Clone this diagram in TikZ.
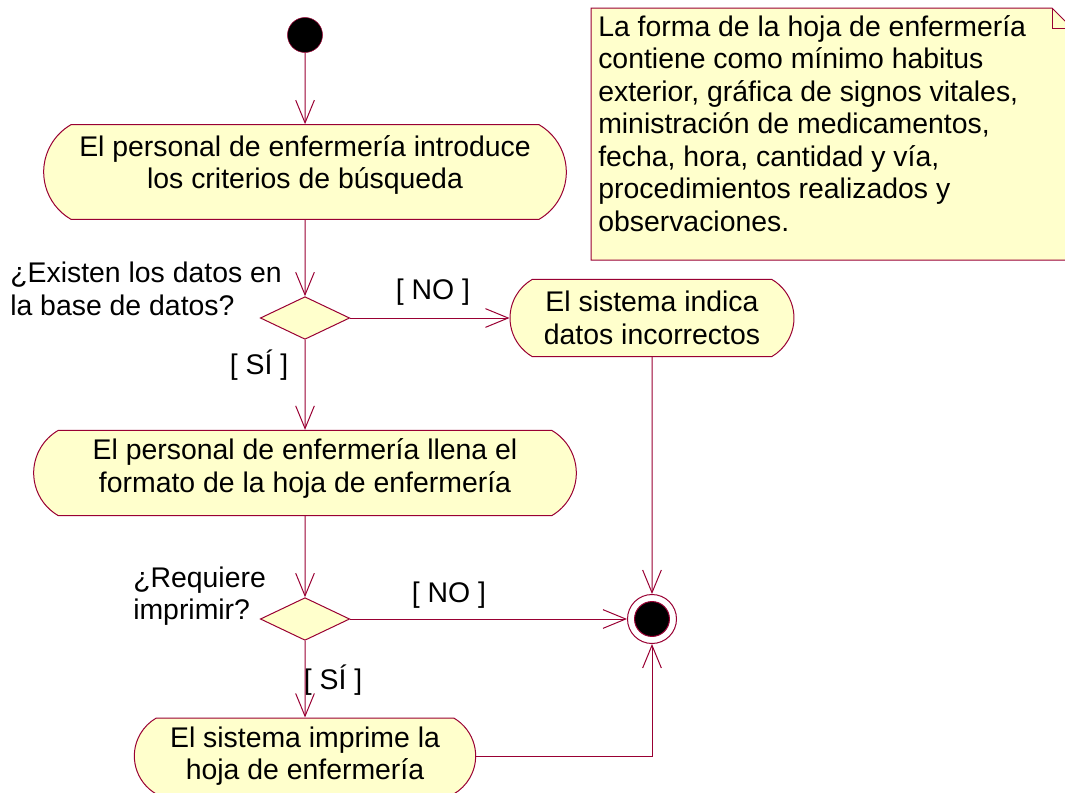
\documentclass[tikz,border=0pt]{standalone}
\usepackage{fontspec}
\setmainfont{Liberation Sans}
\usetikzlibrary{positioning, arrows.meta, shapes.geometric, shapes.misc}
\definecolor{umlline}{RGB}{153,0,51}
\definecolor{umlfill}{RGB}{255,255,204}

\begin{document}
\begin{tikzpicture}[x=0.75pt, y=-0.75pt, font=\fontsize{21.3pt}{24.4pt}\selectfont]
    \tikzset{
        activity/.style={rounded rectangle, rounded rectangle arc length=120,
                         draw=umlline, line width=0.75pt, fill=umlfill,
                         align=center, inner sep=0pt},
        decision/.style={diamond, draw=umlline, line width=0.75pt, fill=umlfill,
                         inner sep=0pt, minimum width=67pt, minimum height=32pt},
        arrow/.style={draw=umlline, line width=0.75pt,
                      -{Straight Barb[length=17pt, width=14pt]}},
        line/.style={draw=umlline, line width=0.75pt},
        guard/.style={inner sep=0pt}
    }
    \useasboundingbox (0,0) rectangle (1065,793);

    % note
    \filldraw[line, fill=umlfill] (591,8) -- (1052,8) -- (1072,28)
        -- (1072,260) -- (591,260) -- cycle;
    \draw[line] (1052,8) -- (1052,28) -- (1072,28);
    \node[anchor=north west, align=left, inner sep=0pt] (notetext) at (598,15)
        {La forma de la hoja de enfermería\\contiene como mínimo habitus\\
         exterior, gráfica de signos vitales,\\ministración de medicamentos,\\
         fecha, hora, cantidad y vía,\\procedimientos realizados y\\observaciones.};

    % flow
    \node[circle, draw=umlline, fill=black, minimum size=26.25pt, inner sep=0pt]
        (start) at (305,35) {};
    \node[activity, minimum width=392pt, minimum height=71pt, text depth=15pt]
        (act1) at (305,172)
        {El personal de enfermería introduce\\los criterios de búsqueda};
    \node[decision] (dec1) at (305,318) {};
    \node[activity, minimum width=213pt, minimum height=58pt] (act2) at (652,318)
        {El sistema indica\\datos incorrectos};
    \node[activity, minimum width=407pt, minimum height=64pt, text depth=11pt]
        (act3) at (305,473)
        {El personal de enfermería llena el\\formato de la hoja de enfermería};
    \node[decision] (dec2) at (305,619) {};
    \node[circle, draw=umlline, line width=0.75pt, fill=white,
          minimum size=36.75pt, inner sep=0pt,
          path picture={\fill[black, draw=umlline]
              (path picture bounding box.center) circle (13.1pt);}]
        (final) at (652,619) {};
    \node[activity, minimum width=256pt, minimum height=57pt] (act4) at (305,756)
        {El sistema imprime la\\hoja de enfermería};

    % questions and guards
    \node[guard, anchor=west, align=left] (ask1) at (10,289)
        {¿Existen los datos en\\la base de datos?};
    \node[guard] (no1) at (433,292) {[ NO ]};
    \node[guard] (si1) at (259,365) {[ SÍ ]};
    \node[guard, anchor=west, align=left] (ask2) at (133,596)
        {¿Requiere\\imprimir?};
    \node[guard] (no2) at (449,595) {[ NO ]};
    \node[guard] (si2) at (333,680) {[ SÍ ]};

    \draw[arrow] (start) -- (act1);
    \draw[arrow] (act1) -- (dec1);
    \draw[arrow] (dec1) -- (act2);
    \draw[arrow] (dec1) -- (act3);
    \draw[arrow] (act2) -- (final);
    \draw[arrow] (act3) -- (dec2);
    \draw[arrow] (dec2) -- (final);
    \draw[arrow] (dec2) -- (act4);
    \draw[arrow] (act4) -| (final);
\end{tikzpicture}
\end{document}
